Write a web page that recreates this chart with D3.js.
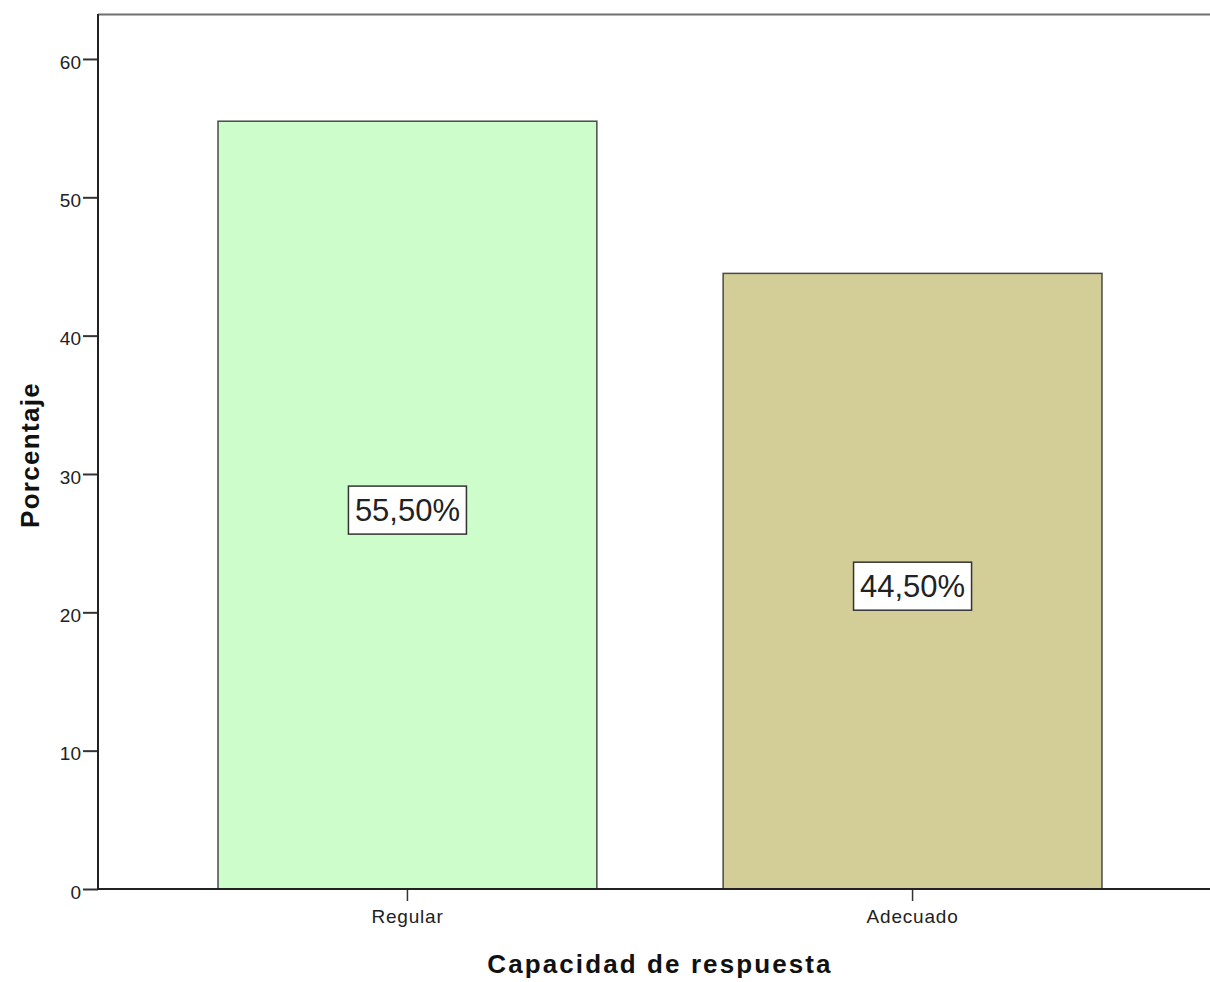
<!DOCTYPE html>
<html><head><meta charset="utf-8">
<script src="https://cdn.jsdelivr.net/npm/d3@7"></script>
<style>body{margin:0;background:#fff}svg{display:block;font-family:"Liberation Sans",Arial,sans-serif}</style>
</head><body><svg id="c" width="1210" height="982"></svg>
<script>
const categories = ["Regular", "Adecuado"];
const values = [55.5, 44.5];
const labels = ["55,50%", "44,50%"];
const colors = ["#ccfdcb", "#d3ce98"];
const yTicks = [0, 10, 20, 30, 40, 50, 60];

const svg = d3.select("#c");
const plotLeft = 98, plotTop = 14, plotBottom = 889;
const y = d3.scaleLinear().domain([0, 63.25]).range([plotBottom, plotTop]);
const x = d3.scaleBand().domain(categories).range([plotLeft, 1222]).paddingInner(0.25).paddingOuter(0.2376);

// top frame line
svg.append("line").attr("x1", plotLeft).attr("x2", 1210).attr("y1", plotTop + 0.5).attr("y2", plotTop + 0.5)
  .attr("stroke", "#707070").attr("stroke-width", 2);

// bars
svg.selectAll("rect.bar").data(categories).enter().append("rect")
  .attr("x", d => x(d)).attr("y", (d, i) => y(values[i]))
  .attr("width", x.bandwidth()).attr("height", (d, i) => plotBottom - y(values[i]))
  .attr("fill", (d, i) => colors[i]).attr("stroke", "#4a4a4a").attr("stroke-width", 1.5);

// y axis
const ya = svg.append("g").attr("transform", `translate(${plotLeft},0)`)
  .call(d3.axisLeft(y).tickValues(yTicks).tickSize(15).tickPadding(2).tickFormat(d3.format("d")));
ya.select(".domain").remove();
ya.selectAll(".tick line").attr("stroke", "#333").attr("stroke-width", 2);
ya.selectAll(".tick text").attr("font-size", 19).attr("fill", "#222").attr("y", 3)
  .attr("font-family", "Liberation Sans, Arial, sans-serif");
svg.append("line").attr("x1", plotLeft).attr("x2", plotLeft).attr("y1", plotTop).attr("y2", plotBottom + 1)
  .attr("stroke", "#222").attr("stroke-width", 2);

// x axis
const xa = svg.append("g").attr("transform", `translate(0,${plotBottom})`)
  .call(d3.axisBottom(x).tickSize(12).tickPadding(9));
xa.select(".domain").remove();
xa.selectAll(".tick line").attr("stroke", "#333").attr("stroke-width", 1.5);
xa.selectAll(".tick text").attr("font-size", 19).attr("fill", "#222").attr("letter-spacing", 0.8)
  .attr("font-family", "Liberation Sans, Arial, sans-serif");
svg.append("line").attr("x1", plotLeft - 1).attr("x2", 1210).attr("y1", plotBottom).attr("y2", plotBottom)
  .attr("stroke", "#222").attr("stroke-width", 2);

// value labels
const lg = svg.selectAll("g.lbl").data(categories).enter().append("g")
  .attr("transform", (d, i) => `translate(${x(d) + x.bandwidth() / 2},${y(values[i] / 2) + 5})`);
lg.append("rect").attr("x", -59).attr("y", -24).attr("width", 118).attr("height", 48)
  .attr("fill", "#fff").attr("stroke", "#333").attr("stroke-width", 1.5);
lg.append("text").attr("text-anchor", "middle").attr("dy", "0.36em").attr("font-size", 31)
  .attr("fill", "#222").text((d, i) => labels[i]);

// axis titles
svg.append("text").attr("x", 660).attr("y", 973).attr("text-anchor", "middle")
  .attr("font-size", 26).attr("font-weight", "bold").attr("fill", "#111").attr("letter-spacing", 2.1)
  .text("Capacidad de respuesta");
svg.append("text").attr("transform", "translate(39,455) rotate(-90)").attr("text-anchor", "middle")
  .attr("font-size", 26).attr("font-weight", "bold").attr("fill", "#111").attr("letter-spacing", 1.3)
  .text("Porcentaje");
</script></body></html>
